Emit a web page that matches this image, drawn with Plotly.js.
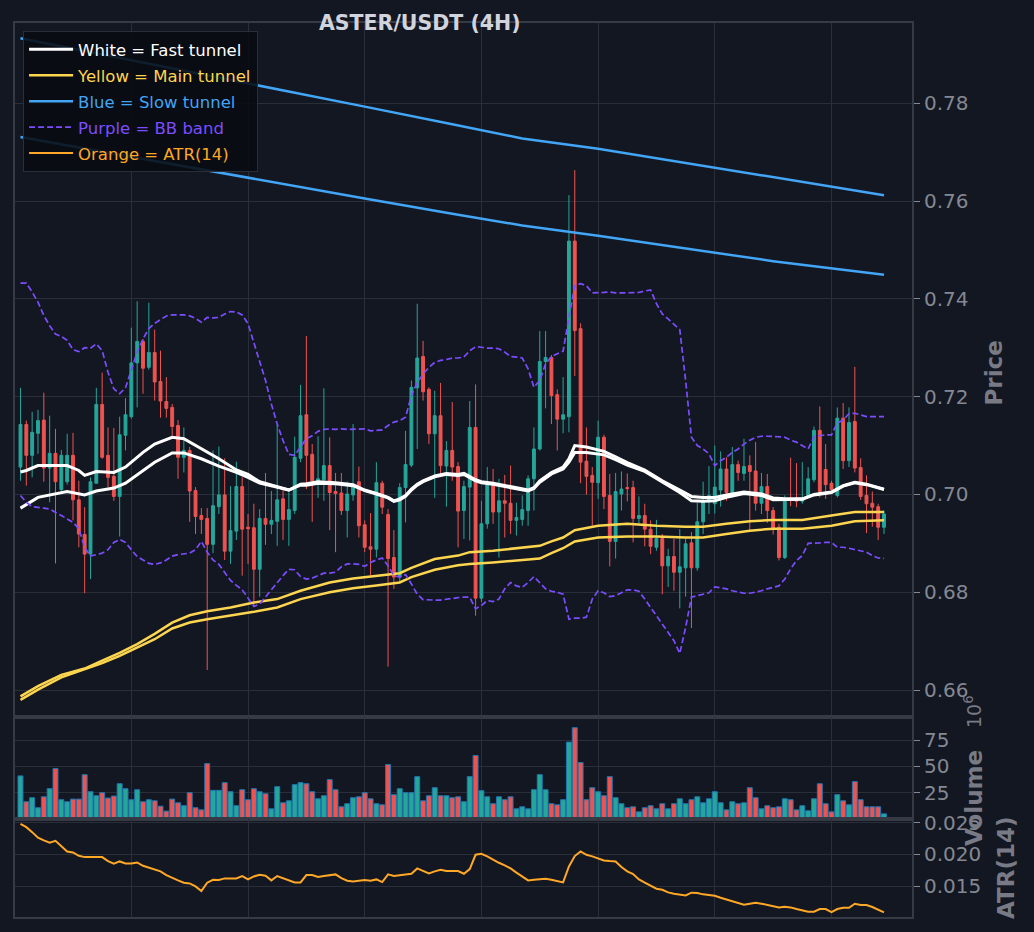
<!DOCTYPE html>
<html>
<head>
<meta charset="utf-8">
<script src="https://cdn.plot.ly/plotly-3.0.1.min.js"></script>
<style>
  html, body { margin: 0; padding: 0; background: #131722; }
  #chart { width: 1034px; height: 932px; }
</style>
</head>
<body>
<div id="chart"></div>
<script>
// 4H candles (149 bars)
var opens = [
  .7056,.7143,.7080,.7125,.7152,.7054,.7084,.7010,.7026,.7080,.6989,.6918,.6878,.7023,.7184,.7080,.7037,.6996,.7121,.7159,
  .7269,.7313,.7260,.7290,.7231,.7190,.7178,.7141,.7076,.7090,.7008,.6957,.6951,.6898,.6975,.6999,.6884,.6925,.7016,.6933,
  .6932,.6847,.6951,.6939,.6945,.6991,.6949,.6967,.7074,.7163,.7082,.7027,.7030,.7059,.7006,.7003,.6967,.6999,.7026,.6938,
  .6893,.6888,.7023,.6959,.6871,.6831,.7014,.7060,.7218,.7282,.7215,.7124,.7161,.7058,.7090,.7057,.6967,.7015,.7137,.6788,
  .6940,.7020,.6964,.6987,.6982,.6947,.6949,.6967,.7032,.7093,.7272,.7280,.7204,.7154,.7159,.7518,.7339,.7068,.7039,.7024,
  .7117,.6998,.6904,.7001,.7014,.7014,.6951,.6957,.6929,.6892,.6910,.6854,.6873,.6841,.6850,.6901,.6850,.6944,.6985,.6981,
  .7009,.7052,.7003,.7061,.7043,.7059,.7048,.6982,.7016,.6967,.6933,.6871,.6991,.6991,.6986,.6998,.7030,.7131,.7051,.7023,
  .6998,.7156,.7069,.7149,.7055,.6998,.6982,.6975,.6933
];
var highs = [
  .7218,.7151,.7169,.7173,.7208,.7161,.7134,.7091,.7124,.7126,.7028,.6974,.7035,.7218,.7249,.7137,.7136,.7159,.7197,.7341,
  .7395,.7318,.7392,.7337,.7294,.7240,.7185,.7152,.7137,.7097,.7015,.6972,.6972,.7090,.7098,.7074,.7017,.7067,.7035,.6960,
  .6981,.6970,.7044,.7007,.7143,.7015,.7004,.7118,.7224,.7324,.7103,.7119,.7217,.7117,.7044,.7044,.7026,.7144,.7057,.6947,
  .6962,.7066,.7028,.6970,.6927,.7023,.7130,.7233,.7390,.7314,.7219,.7212,.7228,.7109,.7189,.7066,.7028,.7191,.7225,.6987,
  .7056,.7052,.7032,.7040,.7059,.6983,.6998,.7039,.7137,.7334,.7334,.7285,.7215,.7240,.7612,.7663,.7350,.7137,.7056,.7151,
  .7122,.7042,.7044,.7047,.7043,.7028,.6996,.6981,.6947,.6948,.6919,.6889,.6909,.6929,.6910,.6923,.6983,.7026,.7058,.7100,
  .7088,.7076,.7097,.7069,.7114,.7080,.7107,.7044,.7042,.6974,.6940,.6998,.7075,.7064,.7066,.7056,.7139,.7180,.7103,.7028,
  .7178,.7187,.7178,.7261,.7074,.7039,.7006,.6981,.6967
];
var lows = [
  .7028,.7018,.7035,.7083,.7026,.6984,.6859,.7006,.7020,.6947,.6892,.6798,.6827,.7022,.7073,.7015,.6987,.6914,.7090,.7155,
  .7178,.7206,.7255,.7192,.7157,.7157,.7120,.7032,.7045,.6944,.6919,.6919,.6641,.6880,.6960,.6866,.6858,.6907,.6834,.6858,
  .6771,.6791,.6897,.6919,.6895,.6907,.6895,.6960,.7066,.7011,.6944,.6993,.6987,.6927,.6882,.6958,.6912,.6987,.6912,.6882,
  .6834,.6871,.6960,.6648,.6807,.6820,.6943,.7056,.7093,.7192,.7103,.6993,.7042,.6975,.7028,.6892,.6909,.6906,.6752,.6780,
  .6930,.6940,.6871,.6912,.6919,.6916,.6936,.6936,.6967,.7090,.7176,.7144,.7090,.7125,.7127,.7242,.7023,.7000,.6936,.6991,
  .6970,.6853,.6869,.6967,.6986,.6902,.6940,.6894,.6878,.6885,.6796,.6811,.6803,.6767,.6791,.6727,.6844,.6919,.6960,.6961,
  .6975,.6987,.6994,.7028,.7028,.6927,.6967,.6960,.6942,.6918,.6865,.6868,.6976,.6974,.6981,.6994,.7025,.6994,.6991,.7001,
  .6994,.7052,.7056,.7045,.6989,.6921,.6934,.6907,.6919
];
var closes = [
  .7143,.7080,.7127,.7151,.7054,.7084,.7026,.7080,.7080,.6989,.6919,.6878,.7026,.7184,.7076,.7035,.6996,.7122,.7163,.7269,
  .7313,.7258,.7290,.7230,.7191,.7176,.7139,.7076,.7090,.7007,.6955,.6949,.6898,.6977,.6999,.6884,.6926,.7016,.6929,.6930,
  .6847,.6951,.6939,.6947,.6989,.6949,.6969,.7076,.7161,.7080,.7028,.7032,.7059,.7004,.7002,.6967,.7001,.7017,.6936,.6892,
  .6888,.7024,.6974,.6869,.6831,.7014,.7061,.7219,.7279,.7210,.7124,.7161,.7059,.7090,.7056,.6966,.7016,.7137,.6788,.6940,
  .7020,.6964,.6987,.6982,.6947,.6953,.6969,.7032,.7093,.7272,.7280,.7202,.7154,.7163,.7518,.7335,.7066,.7037,.7025,.7117,
  .6996,.6904,.7006,.7011,.7012,.6951,.6957,.6929,.6894,.6910,.6854,.6873,.6841,.6852,.6899,.6850,.6944,.6985,.6998,.7015,
  .7052,.7004,.7061,.7045,.7057,.7047,.6982,.7016,.6967,.6930,.6871,.6991,.6989,.6986,.6991,.7032,.7131,.7006,.7020,.7010,
  .7156,.7069,.7147,.7054,.6996,.6981,.6974,.6933,.6960
];
// volume in millions
var volumes = [
  40.9,16.4,20.2,10.7,21.1,28.8,47.9,18.3,16.4,18.9,18.9,42.1,25.9,22.1,25.0,19.9,21.8,33.5,28.8,18.3,
  27.8,16.4,18.3,17.3,12.2,7.5,18.9,15.4,12.6,25.0,10.7,8.7,52.6,27.2,27.2,34.5,25.9,12.6,27.8,18.3,
  28.8,25.9,24.0,9.7,30.7,15.4,17.3,32.6,34.5,33.5,25.9,19.2,22.1,37.4,27.8,11.6,14.5,20.2,21.1,25.0,
  19.2,14.5,13.5,51.7,23.1,28.8,25.0,25.0,40.2,17.3,22.1,29.7,22.1,22.1,20.2,21.1,16.4,40.2,60.3,26.9,
  21.1,14.5,21.1,18.3,21.1,9.7,11.6,9.7,27.8,42.1,27.8,14.5,13.5,18.3,73.0,86.7,53.6,18.3,29.7,25.9,
  22.1,40.2,20.2,14.5,10.7,11.6,6.8,10.7,12.6,9.7,14.5,9.7,14.5,19.2,14.5,18.3,21.1,15.4,19.2,25.9,
  15.4,8.7,16.4,14.5,15.4,29.7,20.2,9.7,12.6,10.7,11.6,19.2,18.3,8.7,12.6,7.8,19.2,33.5,14.5,6.8,
  23.1,17.3,13.5,35.5,18.3,11.6,11.6,11.6,4.9
];
// tunnels, sampled at these candle numbers
var fastX = [1,2,4,9,11,12,14,17,19,22,24,27,29,32,35,38,40,42,45,47,49,50,52,55,58,60,62,64,65,66,67,68,69,70,72,74,76,77,79,80,82,85,88,89,90,92,94,95,96,98,100,101,103,105,108,111,114,116,118,120,122,125,128,130,132,135,137,140,142,144,146,149];
var fastA = [.7046,.7049,.7059,.7059,.7049,.7039,.7047,.7045,.7056,.7086,.7103,.7117,.7114,.7093,.7073,.7050,.7041,.7026,.7016,.7009,.7021,.7022,.7026,.7024,.7020,.7009,.7002,.6994,.6987,.6991,.6998,.7011,.7021,.7028,.7038,.7043,.7041,.7043,.7030,.7026,.7023,.7016,.7009,.7014,.7028,.7045,.7056,.7073,.7100,.7097,.7091,.7088,.7077,.7065,.7050,.7028,.7009,.6996,.6994,.6994,.6999,.7005,.7001,.6993,.6991,.6991,.7000,.7005,.7018,.7025,.7021,.7011];
var fastB = [.6972,.6979,.6994,.7006,.7002,.6999,.7007,.7013,.7023,.7049,.7066,.7085,.7085,.7073,.7058,.7045,.7035,.7023,.7015,.7009,.7019,.7019,.7023,.7022,.7018,.7008,.7001,.6993,.6986,.6989,.6996,.7009,.7019,.7026,.7036,.7041,.7039,.7041,.7028,.7024,.7021,.7014,.7007,.7012,.7025,.7042,.7052,.7066,.7086,.7086,.7082,.7081,.7071,.7060,.7047,.7025,.7004,.6987,.6986,.6987,.6994,.7002,.6998,.6989,.6989,.6990,.6999,.7004,.7017,.7024,.7020,.7010];
var mainX = [1,4,8,12,15,18,21,24,27,30,33,37,41,45,49,54,58,62,66,68,70,72,76,78,82,86,90,92,94,96,100,105,110,115,118,122,126,130,135,140,144,149];
var mainA = [.6587,.6608,.6631,.6644,.6660,.6676,.6694,.6715,.6738,.6753,.6761,.6769,.6779,.6786,.6803,.6820,.6828,.6834,.6839,.6850,.6859,.6868,.6875,.6882,.6885,.6890,.6895,.6904,.6912,.6927,.6936,.6940,.6936,.6934,.6934,.6940,.6945,.6948,.6948,.6957,.6964,.6964];
var mainB = [.6580,.6601,.6626,.6642,.6655,.6670,.6687,.6704,.6726,.6738,.6745,.6752,.6760,.6769,.6786,.6800,.6808,.6814,.6820,.6831,.6839,.6846,.6855,.6858,.6861,.6865,.6869,.6880,.6890,.6904,.6912,.6914,.6914,.6912,.6912,.6919,.6926,.6930,.6930,.6936,.6945,.6947];
var slowX = [1,15,30,45,60,75,87,100,115,130,149];
var slowA = [.7933,.7900,.7865,.7829,.7793,.7757,.7728,.7707,.7678,.7649,.7612];
var slowB = [.7731,.7701,.7668,.7636,.7605,.7574,.7550,.7529,.7503,.7477,.7449];
// Bollinger band, one value per candle
var bbUpper = [
  .7432,.7432,.7414,.7393,.7366,.7345,.7328,.7323,.7315,.7296,.7292,.7300,.7299,.7308,.7294,.7250,.7216,.7206,.7218,.7254,
  .7291,.7318,.7339,.7350,.7357,.7365,.7367,.7367,.7367,.7365,.7360,.7352,.7362,.7361,.7362,.7369,.7374,.7373,.7367,.7349,
  .7311,.7274,.7233,.7185,.7144,.7110,.7082,.7080,.7097,.7114,.7120,.7129,.7133,.7134,.7133,.7134,.7133,.7133,.7134,.7134,
  .7130,.7131,.7132,.7141,.7148,.7151,.7158,.7202,.7229,.7246,.7260,.7270,.7274,.7276,.7279,.7279,.7281,.7294,.7302,.7301,
  .7299,.7299,.7298,.7291,.7282,.7281,.7279,.7257,.7219,.7233,.7267,.7282,.7287,.7293,.7362,.7427,.7431,.7427,.7412,.7412,
  .7413,.7414,.7412,.7412,.7412,.7412,.7413,.7416,.7418,.7390,.7369,.7359,.7349,.7337,.7233,.7117,.7100,.7093,.7083,.7059,
  .7069,.7076,.7086,.7093,.7103,.7111,.7117,.7119,.7119,.7119,.7118,.7117,.7111,.7107,.7100,.7093,.7118,.7120,.7122,.7122,
  .7146,.7152,.7165,.7166,.7163,.7159,.7159,.7159,.7159
];
var bbLower = [
  .6998,.6984,.6975,.6974,.6972,.6970,.6964,.6957,.6950,.6943,.6930,.6892,.6874,.6877,.6880,.6887,.6902,.6908,.6902,.6887,
  .6873,.6866,.6859,.6857,.6860,.6866,.6874,.6877,.6878,.6880,.6887,.6904,.6882,.6866,.6857,.6841,.6824,.6814,.6805,.6788,
  .6771,.6776,.6791,.6805,.6820,.6834,.6847,.6846,.6832,.6827,.6829,.6834,.6839,.6839,.6841,.6852,.6858,.6858,.6857,.6853,
  .6861,.6866,.6870,.6854,.6834,.6831,.6836,.6817,.6796,.6785,.6784,.6784,.6784,.6786,.6788,.6789,.6790,.6790,.6766,.6773,
  .6783,.6781,.6786,.6807,.6820,.6813,.6810,.6820,.6832,.6820,.6807,.6802,.6800,.6796,.6745,.6747,.6747,.6749,.6786,.6803,
  .6799,.6791,.6793,.6799,.6805,.6805,.6802,.6786,.6769,.6754,.6735,.6718,.6701,.6675,.6728,.6790,.6793,.6795,.6799,.6811,
  .6809,.6807,.6803,.6800,.6798,.6798,.6800,.6803,.6807,.6810,.6813,.6827,.6848,.6865,.6875,.6900,.6900,.6901,.6902,.6902,
  .6892,.6892,.6890,.6887,.6885,.6882,.6875,.6870,.6869
];
var atr14 = [
  .02482,.02429,.02351,.02262,.02220,.02183,.02215,.02126,.02047,.02031,.01979,.01958,.01958,.01969,.01958,.01895,.01853,.01890,.01859,.01859,
  .01874,.01822,.01796,.01770,.01733,.01675,.01628,.01592,.01555,.01544,.01497,.01424,.01555,.01602,.01597,.01623,.01623,.01623,.01660,.01607,
  .01654,.01681,.01665,.01592,.01660,.01628,.01592,.01560,.01560,.01675,.01675,.01644,.01660,.01675,.01686,.01628,.01586,.01576,.01586,.01597,
  .01586,.01607,.01565,.01686,.01660,.01670,.01686,.01696,.01780,.01738,.01702,.01733,.01759,.01738,.01738,.01738,.01696,.01770,.01995,.02010,
  .01969,.01916,.01869,.01827,.01780,.01715,.01660,.01592,.01602,.01613,.01618,.01602,.01581,.01560,.01812,.01974,.02047,.01995,.01969,.01937,
  .01906,.01895,.01890,.01801,.01733,.01691,.01607,.01555,.01508,.01461,.01445,.01403,.01382,.01366,.01356,.01398,.01393,.01372,.01356,.01351,
  .01319,.01293,.01272,.01236,.01209,.01225,.01241,.01225,.01204,.01188,.01167,.01178,.01167,.01141,.01126,.01099,.01099,.01141,.01141,.01094,
  .01141,.01162,.01162,.01225,.01204,.01204,.01173,.01131,.01089
];
var priceTicks = [0.66, 0.68, 0.70, 0.72, 0.74, 0.76, 0.78];
var volTicks = [25, 50, 75];
var atrTicks = [0.015, 0.020, 0.025];

var UP = '#26a69a', DOWN = '#ef5350';
var FONT = 'DejaVu Sans';
var GRID = '#2a2e39', FRAME = '#363a45', TICK = '#848892', LABEL = '#787b86';

var bars = [];
for (var i = 0; i < closes.length; i++) bars.push(i + 1);
var volColors = closes.map(function (c, i) { return c >= opens[i] ? UP : DOWN; });

function leg(txt, col) { return '<span style="color:' + col + '">' + txt + '</span>'; }

var data = [
  {type: 'candlestick', x: bars, open: opens, high: highs, low: lows, close: closes,
   increasing: {line: {color: UP, width: 1}, fillcolor: UP},
   decreasing: {line: {color: DOWN, width: 1}, fillcolor: DOWN},
   showlegend: false, hoverinfo: 'skip', xaxis: 'x', yaxis: 'y'},
  {x: fastX, y: fastA, mode: 'lines', line: {color: '#ffffff', width: 3}, legendgroup: 'fast',
   name: leg('White = Fast tunnel', '#ffffff'), xaxis: 'x', yaxis: 'y'},
  {x: fastX, y: fastB, mode: 'lines', line: {color: '#ffffff', width: 3}, legendgroup: 'fast',
   showlegend: false, xaxis: 'x', yaxis: 'y'},
  {x: mainX, y: mainA, mode: 'lines', line: {color: '#fdd54f', width: 2.5}, legendgroup: 'main',
   name: leg('Yellow = Main tunnel', '#fdd54f'), xaxis: 'x', yaxis: 'y'},
  {x: mainX, y: mainB, mode: 'lines', line: {color: '#fdd54f', width: 2.5}, legendgroup: 'main',
   showlegend: false, xaxis: 'x', yaxis: 'y'},
  {x: slowX, y: slowA, mode: 'lines', line: {color: '#42a5f5', width: 2.5}, legendgroup: 'slow',
   name: leg('Blue = Slow tunnel', '#42a5f5'), xaxis: 'x', yaxis: 'y'},
  {x: slowX, y: slowB, mode: 'lines', line: {color: '#42a5f5', width: 2.5}, legendgroup: 'slow',
   showlegend: false, xaxis: 'x', yaxis: 'y'},
  {x: bars, y: bbUpper, mode: 'lines', line: {color: '#7c4dff', width: 1.7, dash: '6px,3px'}, legendgroup: 'bb',
   name: leg('Purple = BB band', '#7c4dff'), xaxis: 'x', yaxis: 'y'},
  {x: bars, y: bbLower, mode: 'lines', line: {color: '#7c4dff', width: 1.7, dash: '6px,3px'}, legendgroup: 'bb',
   showlegend: false, xaxis: 'x', yaxis: 'y'},
  {type: 'bar', x: bars, y: volumes, width: 0.85,
   marker: {color: volColors, line: {color: '#1f77b4', width: 1}},
   showlegend: false, xaxis: 'x2', yaxis: 'y2'},
  {x: bars, y: atr14, mode: 'lines', line: {color: '#ffa726', width: 2}, legendgroup: 'atr',
   name: leg('Orange = ATR(14)', '#ffa726'), xaxis: 'x3', yaxis: 'y3'}
];

function xAxis(anchor, extra) {
  var a = {anchor: anchor, range: [0.06, 153.8], tick0: 0, dtick: 20,
    showgrid: true, gridcolor: GRID, gridwidth: 1, zeroline: false,
    showticklabels: false, ticks: '', showline: true, mirror: true,
    linecolor: FRAME, linewidth: 2};
  for (var k in extra) a[k] = extra[k];
  return a;
}
function yAxis(anchor, dom, rng, vals, fmt) {
  return {anchor: anchor, domain: dom, range: rng, side: 'right',
    tickvals: vals, tickformat: fmt, ticks: 'outside', ticklen: 6, tickcolor: TICK,
    tickfont: {family: FONT, size: 20, color: TICK},
    showgrid: true, gridcolor: GRID, gridwidth: 1, zeroline: false,
    showline: true, mirror: true, linecolor: FRAME, linewidth: 2};
}

var layout = {
  width: 1034, height: 932,
  paper_bgcolor: '#131722', plot_bgcolor: '#131722',
  margin: {l: 15, r: 122, t: 23, b: 15},
  font: {family: FONT, color: TICK},
  title: {text: '<b>ASTER/USDT (4H)</b>', x: 0.406, xanchor: 'center', y: 0.975, yanchor: 'middle',
          font: {family: FONT, size: 20.5, color: '#d1d4dc'}},
  xaxis: xAxis('y', {rangeslider: {visible: false}}),
  xaxis2: xAxis('y2', {matches: 'x'}),
  xaxis3: xAxis('y3', {matches: 'x'}),
  yaxis: yAxis('x', [0.2232, 1], [0.6544, 0.7964], priceTicks, '.2f'),
  yaxis2: yAxis('x2', [0.1096, 0.2232], [0, 96.4], volTicks, 'd'),
  yaxis3: yAxis('x3', [0, 0.1096], [0.01016, 0.02557], atrTicks, '.3f'),
  showlegend: true,
  legend: {x: 0.009, y: 0.991, xanchor: 'left', yanchor: 'top', itemwidth: 44,
           traceorder: 'grouped', tracegroupgap: 1.5,
           bgcolor: 'rgba(8,11,17,0.88)', bordercolor: '#2a2e39', borderwidth: 1,
           font: {family: FONT, size: 16.5}},
  annotations: [
    {xref: 'paper', yref: 'paper', x: 1.0909, y: 0.6085, text: '<b>Price</b>', textangle: -90,
     showarrow: false, xanchor: 'center', yanchor: 'middle', font: {family: FONT, size: 23, color: LABEL}},
    {xref: 'paper', yref: 'paper', x: 1.068, y: 0.2304, text: '10<sup>6</sup>', textangle: -90,
     showarrow: false, xanchor: 'center', yanchor: 'middle', font: {family: FONT, size: 19, color: LABEL}},
    {xref: 'paper', yref: 'paper', x: 1.0691, y: 0.1331, text: '<b>Volume</b>', textangle: -90,
     showarrow: false, xanchor: 'center', yanchor: 'middle', font: {family: FONT, size: 23, color: LABEL}},
    {xref: 'paper', yref: 'paper', x: 1.1048, y: 0.0548, text: '<b>ATR(14)</b>', textangle: -90,
     showarrow: false, xanchor: 'center', yanchor: 'middle', font: {family: FONT, size: 23, color: LABEL}}
  ]
};

Plotly.newPlot('chart', data, layout, {responsive: false, displayModeBar: false, staticPlot: true});
</script>
</body>
</html>
